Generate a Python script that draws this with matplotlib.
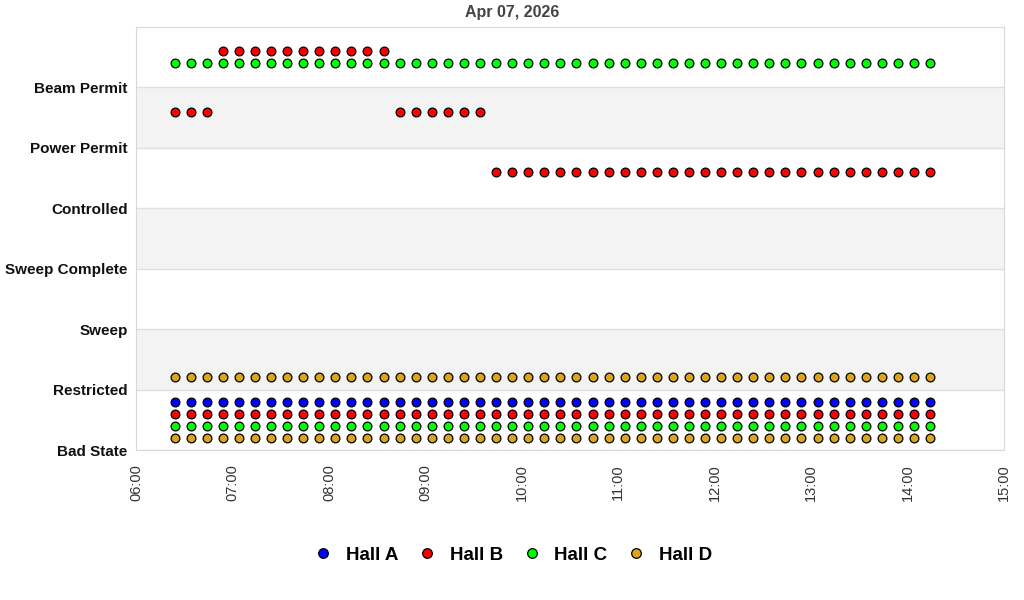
import matplotlib
matplotlib.use("Agg")
import matplotlib.pyplot as plt
import matplotlib.dates as mdates
import pandas as pd

plt.rcParams['font.family'] = ['Liberation Sans', 'DejaVu Sans']

title = "Apr 07, 2026"
states = ["Bad State", "Restricted", "Sweep", "Sweep Complete",
          "Controlled", "Power Permit", "Beam Permit"]

# sample times, every 10 minutes
times = pd.to_datetime([
    "2026-04-07 06:24", "2026-04-07 06:34", "2026-04-07 06:44", "2026-04-07 06:54",
    "2026-04-07 07:04", "2026-04-07 07:14", "2026-04-07 07:24", "2026-04-07 07:34",
    "2026-04-07 07:44", "2026-04-07 07:54", "2026-04-07 08:04", "2026-04-07 08:14",
    "2026-04-07 08:24", "2026-04-07 08:34", "2026-04-07 08:44", "2026-04-07 08:54",
    "2026-04-07 09:04", "2026-04-07 09:14", "2026-04-07 09:24", "2026-04-07 09:34",
    "2026-04-07 09:44", "2026-04-07 09:54", "2026-04-07 10:04", "2026-04-07 10:14",
    "2026-04-07 10:24", "2026-04-07 10:34", "2026-04-07 10:44", "2026-04-07 10:54",
    "2026-04-07 11:04", "2026-04-07 11:14", "2026-04-07 11:24", "2026-04-07 11:34",
    "2026-04-07 11:44", "2026-04-07 11:54", "2026-04-07 12:04", "2026-04-07 12:14",
    "2026-04-07 12:24", "2026-04-07 12:34", "2026-04-07 12:44", "2026-04-07 12:54",
    "2026-04-07 13:04", "2026-04-07 13:14", "2026-04-07 13:24", "2026-04-07 13:34",
    "2026-04-07 13:44", "2026-04-07 13:54", "2026-04-07 14:04", "2026-04-07 14:14",
])
n = len(times)

halls = ["Hall A", "Hall B", "Hall C", "Hall D"]
colors = ["#0000FF", "#FF0000", "#00FF00", "#DAA520"]
offsets = [0.8, 0.6, 0.4, 0.2]

# each hall has a couple of status series (state name per sample)
hall_a = [["Bad State"] * n]
hall_b = [["Bad State"] * n,
          ["Power Permit"] * 3 + ["Beam Permit"] * 11 + ["Power Permit"] * 6 + ["Controlled"] * 28]
hall_c = [["Bad State"] * n, ["Beam Permit"] * n]
hall_d = [["Bad State"] * n, ["Restricted"] * n]
hall_series = [hall_a, hall_b, hall_c, hall_d]

fig = plt.figure(figsize=(10.24, 6), dpi=100)
ax = fig.add_axes([136 / 1024, 150 / 600, 868 / 1024, 423 / 600])

# alternating bands
for i in range(len(states)):
    if i % 2 == 1:
        ax.axhspan(i, i + 1, color="#f3f3f3", zorder=0, lw=0)
for i in range(len(states)):
    ax.axhline(i, color="#e0e0e0", lw=1, zorder=1)

for name, col, off, series in zip(halls, colors, offsets, hall_series):
    for k, s in enumerate(series):
        y = [states.index(v) + off for v in s]
        ax.plot(times, y, ls="none", marker="o", ms=6.3, mfc=col, mec="black",
                mew=0.9, zorder=3, label=name if k == 0 else None)

ax.set_ylim(0, 7)
ax.set_yticks(range(len(states)))
ax.set_yticklabels(states, fontweight="bold", fontsize=11, color="#111111")
ax.set_xlim(pd.Timestamp("2026-04-07 06:00"), pd.Timestamp("2026-04-07 15:00"))
ax.xaxis.set_major_locator(mdates.HourLocator())
ax.xaxis.set_major_formatter(mdates.DateFormatter("%H:%M"))
plt.setp(ax.get_xticklabels(), rotation=90, fontsize=10.5, color="#333333")
ax.tick_params(length=0, pad=6)
ax.tick_params(axis="x", pad=10)
for sp in ax.spines.values():
    sp.set_color("#d8d8d8")

fig.text(512 / 1024, 1 - 13 / 600, title, ha="center", va="center",
         fontsize=11.5, fontweight="bold", color="#444444")

fig.legend(loc="center", bbox_to_anchor=(512 / 1024, 1 - 555 / 600), ncol=4,
           frameon=False, prop={"weight": "bold", "size": 13.5}, handletextpad=0.6,
           columnspacing=0.95, markerscale=1.1, handlelength=1.2)

fig.savefig("out.png", dpi=100)
